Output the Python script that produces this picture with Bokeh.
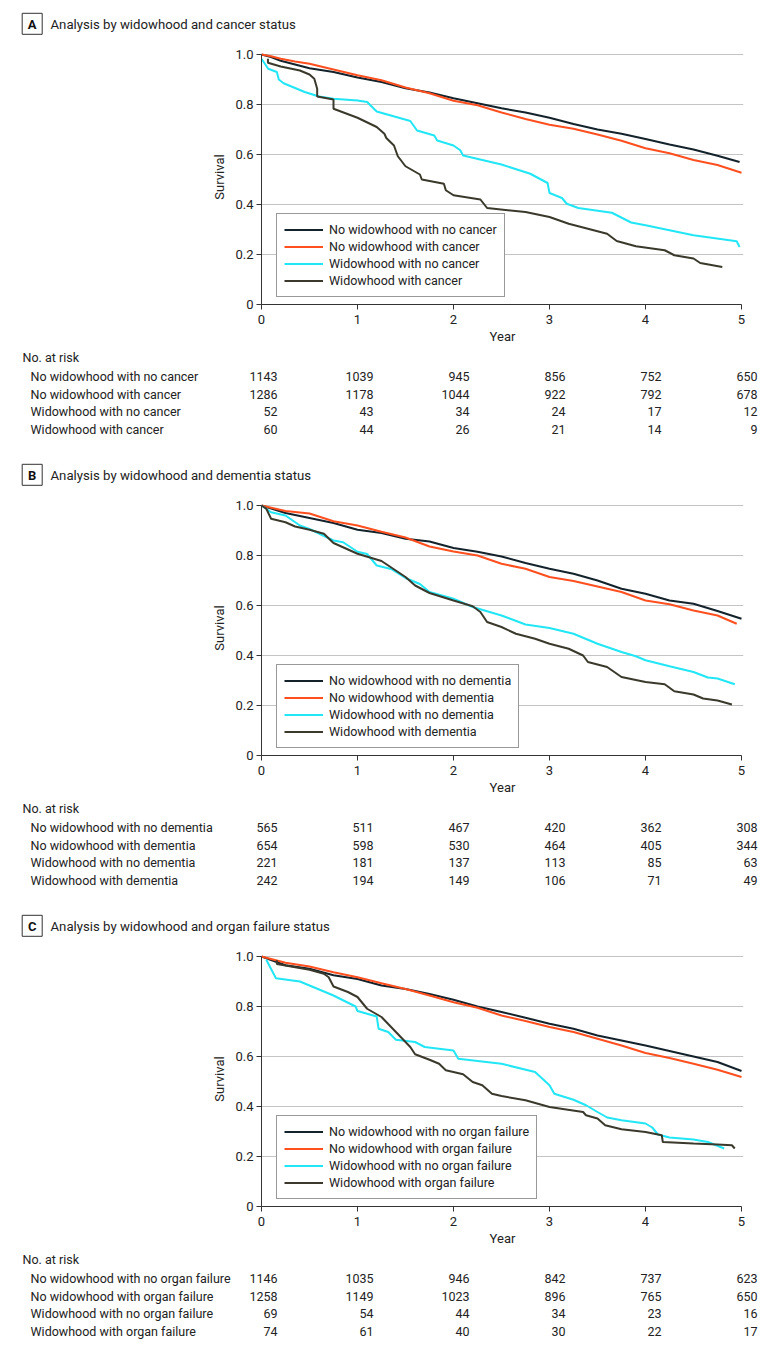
from bokeh.plotting import figure
from bokeh.layouts import column
from bokeh.models import Range1d, FixedTicker, Legend, LegendItem, ColumnDataSource, CustomJSTickFormatter
from bokeh.core.properties import value
from bokeh.embed import file_html
from bokeh.resources import INLINE

# ---------------- data ----------------
YEARS = [0, 1, 2, 3, 4, 5]
Y_TICKS = [0, 0.2, 0.4, 0.6, 0.8, 1.0]

# Panel A: cancer
A_TITLE = "Analysis by widowhood and cancer status"
A_LABELS = ["No widowhood with no cancer", "No widowhood with cancer",
            "Widowhood with no cancer", "Widowhood with cancer"]
A_RISK_1 = [1143, 1039, 945, 856, 752, 650]
A_RISK_2 = [1286, 1178, 1044, 922, 792, 678]
A_RISK_3 = [52, 43, 34, 24, 17, 12]
A_RISK_4 = [60, 44, 26, 21, 14, 9]
A1_X = [0, 0.1, 0.2, 0.35, 0.5, 0.75, 1.0, 1.25, 1.5, 1.75, 2.0, 2.25, 2.5, 2.75, 3.0, 3.25, 3.5, 3.75, 4.0, 4.25, 4.5, 4.75, 4.98]
A1_Y = [1.0, 0.99, 0.975, 0.96, 0.945, 0.93, 0.908, 0.89, 0.865, 0.848, 0.825, 0.805, 0.785, 0.768, 0.747, 0.722, 0.70, 0.683, 0.662, 0.64, 0.62, 0.595, 0.57]
A2_X = [0, 0.1, 0.2, 0.35, 0.5, 0.75, 1.0, 1.25, 1.5, 1.75, 2.0, 2.25, 2.5, 2.75, 3.0, 3.25, 3.5, 3.75, 4.0, 4.25, 4.5, 4.75, 5.0]
A2_Y = [1.0, 0.993, 0.983, 0.972, 0.963, 0.94, 0.917, 0.897, 0.868, 0.845, 0.815, 0.797, 0.768, 0.742, 0.719, 0.703, 0.68, 0.655, 0.625, 0.605, 0.578, 0.558, 0.527]
A3_X = [0, 0.07, 0.16, 0.18, 0.23, 0.45, 0.6, 0.75, 1.0, 1.1, 1.2, 1.55, 1.62, 1.8, 1.83, 2.0, 2.07, 2.1, 2.5, 2.8, 2.98, 3.0, 3.13, 3.18, 3.3, 3.65, 3.85, 4.0, 4.5, 4.95, 4.98]
A3_Y = [0.983, 0.943, 0.93, 0.90, 0.885, 0.85, 0.832, 0.823, 0.816, 0.81, 0.772, 0.734, 0.696, 0.676, 0.656, 0.636, 0.617, 0.596, 0.56, 0.523, 0.486, 0.446, 0.426, 0.403, 0.386, 0.367, 0.328, 0.317, 0.277, 0.253, 0.23]
A4_X = [0.067, 0.067, 0.2, 0.4, 0.5, 0.55, 0.58, 0.58, 0.75, 0.75, 1.0, 1.2, 1.28, 1.3, 1.38, 1.42, 1.5, 1.65, 1.67, 1.9, 1.92, 2.0, 2.28, 2.35, 2.75, 3.0, 3.2, 3.6, 3.7, 3.9, 4.2, 4.3, 4.5, 4.57, 4.8]
A4_Y = [0.983, 0.967, 0.952, 0.936, 0.92, 0.903, 0.863, 0.832, 0.82, 0.783, 0.747, 0.71, 0.683, 0.666, 0.636, 0.593, 0.553, 0.52, 0.50, 0.483, 0.457, 0.437, 0.42, 0.386, 0.37, 0.35, 0.323, 0.283, 0.254, 0.233, 0.217, 0.197, 0.184, 0.166, 0.15]

# Panel B: dementia
B_TITLE = "Analysis by widowhood and dementia status"
B_LABELS = ["No widowhood with no dementia", "No widowhood with dementia",
            "Widowhood with no dementia", "Widowhood with dementia"]
B_RISK_1 = [565, 511, 467, 420, 362, 308]
B_RISK_2 = [654, 598, 530, 464, 405, 344]
B_RISK_3 = [221, 181, 137, 113, 85, 63]
B_RISK_4 = [242, 194, 149, 106, 71, 49]
B1_X = [0, 0.25, 0.5, 0.75, 1.0, 1.25, 1.5, 1.75, 2.0, 2.25, 2.5, 2.75, 3.0, 3.25, 3.5, 3.75, 4.0, 4.25, 4.5, 4.75, 5.0]
B1_Y = [1.0, 0.97, 0.95, 0.93, 0.903, 0.89, 0.867, 0.856, 0.83, 0.815, 0.796, 0.77, 0.747, 0.727, 0.70, 0.667, 0.647, 0.62, 0.607, 0.578, 0.547]
B2_X = [0, 0.25, 0.5, 0.75, 1.0, 1.25, 1.5, 1.75, 2.0, 2.25, 2.5, 2.75, 3.0, 3.25, 3.5, 3.75, 4.0, 4.25, 4.5, 4.75, 4.95]
B2_Y = [1.0, 0.978, 0.968, 0.937, 0.92, 0.895, 0.872, 0.836, 0.816, 0.80, 0.767, 0.747, 0.714, 0.698, 0.676, 0.654, 0.62, 0.605, 0.58, 0.56, 0.527]
B3_X = [0, 0.1, 0.25, 0.4, 0.5, 0.75, 0.85, 1.0, 1.1, 1.2, 1.35, 1.5, 1.65, 1.75, 2.0, 2.2, 2.5, 2.75, 3.0, 3.25, 3.5, 3.75, 3.9, 4.0, 4.25, 4.5, 4.65, 4.75, 4.93]
B3_Y = [1.0, 0.973, 0.96, 0.92, 0.906, 0.86, 0.853, 0.815, 0.806, 0.76, 0.746, 0.71, 0.686, 0.654, 0.627, 0.594, 0.56, 0.524, 0.51, 0.487, 0.447, 0.414, 0.397, 0.381, 0.357, 0.334, 0.312, 0.308, 0.285]
B4_X = [0, 0.05, 0.1, 0.25, 0.35, 0.5, 0.65, 0.75, 1.0, 1.25, 1.5, 1.6, 1.75, 2.0, 2.2, 2.28, 2.35, 2.5, 2.65, 2.85, 3.0, 3.2, 3.35, 3.4, 3.6, 3.75, 4.0, 4.2, 4.3, 4.5, 4.6, 4.75, 4.9]
B4_Y = [1.0, 0.987, 0.947, 0.933, 0.916, 0.903, 0.887, 0.85, 0.807, 0.778, 0.714, 0.68, 0.65, 0.62, 0.597, 0.574, 0.534, 0.514, 0.487, 0.467, 0.447, 0.427, 0.40, 0.374, 0.354, 0.314, 0.294, 0.285, 0.257, 0.244, 0.228, 0.22, 0.204]

# Panel C: organ failure
C_TITLE = "Analysis by widowhood and organ failure status"
C_LABELS = ["No widowhood with no organ failure", "No widowhood with organ failure",
            "Widowhood with no organ failure", "Widowhood with organ failure"]
C_RISK_1 = [1146, 1035, 946, 842, 737, 623]
C_RISK_2 = [1258, 1149, 1023, 896, 765, 650]
C_RISK_3 = [69, 54, 44, 34, 23, 16]
C_RISK_4 = [74, 61, 40, 30, 22, 17]
C1_X = [0, 0.25, 0.5, 0.75, 1.0, 1.25, 1.5, 1.75, 2.0, 2.25, 2.5, 2.75, 3.0, 3.25, 3.5, 3.75, 4.0, 4.25, 4.5, 4.75, 5.0]
C1_Y = [1.0, 0.965, 0.951, 0.925, 0.91, 0.884, 0.87, 0.85, 0.827, 0.80, 0.778, 0.755, 0.731, 0.711, 0.684, 0.664, 0.644, 0.622, 0.60, 0.578, 0.542]
C2_X = [0, 0.25, 0.5, 0.75, 1.0, 1.25, 1.5, 1.75, 2.0, 2.25, 2.5, 2.75, 3.0, 3.25, 3.5, 3.75, 4.0, 4.25, 4.5, 4.75, 5.0]
C2_Y = [1.0, 0.975, 0.96, 0.937, 0.917, 0.893, 0.87, 0.844, 0.817, 0.795, 0.764, 0.742, 0.718, 0.698, 0.671, 0.644, 0.614, 0.594, 0.571, 0.547, 0.518]
C3_X = [0.05, 0.1, 0.15, 0.4, 0.5, 0.75, 0.98, 1.0, 1.2, 1.22, 1.32, 1.4, 1.6, 1.7, 2.0, 2.05, 2.5, 2.85, 3.0, 3.05, 3.25, 3.38, 3.5, 3.6, 3.75, 4.0, 4.07, 4.13, 4.25, 4.5, 4.65, 4.82]
C3_Y = [0.987, 0.95, 0.913, 0.90, 0.884, 0.844, 0.80, 0.782, 0.76, 0.711, 0.698, 0.667, 0.658, 0.638, 0.624, 0.591, 0.571, 0.538, 0.485, 0.451, 0.427, 0.405, 0.378, 0.356, 0.345, 0.332, 0.316, 0.288, 0.276, 0.268, 0.258, 0.232]
C4_X = [0.16, 0.16, 0.5, 0.65, 0.7, 0.75, 0.9, 1.0, 1.1, 1.25, 1.35, 1.45, 1.55, 1.6, 1.75, 1.85, 1.92, 2.1, 2.2, 2.3, 2.4, 2.5, 2.75, 3.0, 3.35, 3.38, 3.5, 3.58, 3.75, 4.0, 4.17, 4.18, 4.5, 4.75, 4.9, 4.93]
C4_Y = [0.985, 0.97, 0.947, 0.931, 0.917, 0.88, 0.858, 0.838, 0.791, 0.758, 0.718, 0.678, 0.638, 0.609, 0.587, 0.571, 0.545, 0.529, 0.498, 0.485, 0.451, 0.442, 0.425, 0.398, 0.378, 0.365, 0.352, 0.325, 0.309, 0.298, 0.285, 0.258, 0.252, 0.248, 0.245, 0.232]

# ---------------- style / layout ----------------
COLORS = ["#13222b", "#ff4f1f", "#21e6f5", "#3a392c"]
FONT = "Roboto"
TXT = "#222222"
W = 780
PX_PER_YEAR = 96
PX_PER_UNIT = 250
FRAME_LEFT = 261
FRAME_RIGHT = 37
HEAD_H = 44
PLOT_TOP = 5
FRAME_H = 255
PLOT_BOTTOM = 46
ROW0 = 26
ROW_PITCH = 17.7


def bare(height, xr, yr):
    f = figure(width=W, height=height, x_range=xr, y_range=yr,
               toolbar_location=None, output_backend="svg", min_border=0,
               x_axis_location=None, y_axis_location=None, frame_align=False)
    f.grid.visible = False
    f.outline_line_color = None
    f.background_fill_color = "white"
    f.border_fill_color = "white"
    return f


def head(letter, title):
    h = bare(HEAD_H, Range1d(0, W), Range1d(HEAD_H, 0))
    h.rect(x=[31.7], y=[23.3], width=20, height=21, fill_color=None,
           line_color="#333333", line_width=1)
    h.text(x=[31.7], y=[23.8], text=[letter], text_font=value(FONT),
           text_font_size="13px", text_font_style="bold", text_align="center",
           text_baseline="middle", text_color="#111111")
    h.text(x=[50], y=[24], text=[title], text_font=value(FONT),
           text_font_size="13.2px", text_align="left", text_baseline="middle",
           text_color=TXT)
    return h


def km(curves, labels):
    p = figure(width=W, height=PLOT_TOP + FRAME_H + PLOT_BOTTOM,
               x_range=Range1d(0, (W - FRAME_LEFT - FRAME_RIGHT) / PX_PER_YEAR),
               y_range=Range1d(0, FRAME_H / PX_PER_UNIT),
               toolbar_location=None, output_backend="svg", frame_align=False,
               min_border_left=FRAME_LEFT, min_border_right=FRAME_RIGHT,
               min_border_top=PLOT_TOP, min_border_bottom=PLOT_BOTTOM)
    p.outline_line_color = None
    p.xgrid.visible = False
    p.ygrid.grid_line_color = "#c4c4c4"
    p.ygrid.grid_line_width = 1
    p.xaxis.ticker = FixedTicker(ticks=YEARS)
    p.yaxis.ticker = FixedTicker(ticks=Y_TICKS)
    p.yaxis.formatter = CustomJSTickFormatter(code="return tick == 0 ? '0' : tick.toFixed(1);")
    p.xaxis.bounds = (YEARS[0], YEARS[-1])
    p.yaxis.bounds = (Y_TICKS[0], Y_TICKS[-1])
    for ax in (p.xaxis[0], p.yaxis[0]):
        ax.axis_line_color = "#333333"
        ax.major_tick_line_color = "#333333"
        ax.major_tick_out = 5
        ax.major_tick_in = 0
        ax.minor_tick_line_color = None
        ax.major_label_text_font = FONT
        ax.major_label_text_font_size = "13px"
        ax.major_label_text_color = TXT
        ax.axis_label_text_font = FONT
        ax.axis_label_text_font_size = "13px"
        ax.axis_label_text_font_style = "normal"
        ax.axis_label_text_color = TXT
    p.xaxis.major_label_standoff = 5
    p.yaxis.major_label_standoff = 3
    p.xaxis.axis_label = "Year"
    p.xaxis.axis_label_standoff = 2
    p.yaxis.axis_label = "Survival"
    p.yaxis.axis_label_standoff = 5
    rends = []
    for (xs, ys), c in zip(curves, COLORS):
        r = p.line(xs, ys, line_color=c, line_width=2)
        rends.append(r)
    items = [LegendItem(label=l, renderers=[r]) for l, r in zip(labels, rends)]
    leg = Legend(items=items, location=(15, 7), margin=0, padding=7, spacing=0,
                 glyph_width=39, glyph_height=17, label_height=17, label_standoff=6,
                 label_text_font=FONT, label_text_font_size="12.5px", label_text_color=TXT,
                 border_line_color="#333333", border_line_width=1,
                 background_fill_color="white", background_fill_alpha=1.0)
    p.add_layout(leg)
    return p


def table(labels, risks, height):
    t = bare(height,
             Range1d(-FRAME_LEFT / PX_PER_YEAR, (W - FRAME_LEFT) / PX_PER_YEAR),
             Range1d((height - ROW0) / ROW_PITCH, -ROW0 / ROW_PITCH))
    t.text(x=[(22 - FRAME_LEFT) / PX_PER_YEAR], y=[-1.07], text=["No. at risk"],
           text_font=value(FONT), text_font_size="12.5px", text_align="left",
           text_baseline="middle", text_color=TXT)
    t.text(x=[(30 - FRAME_LEFT) / PX_PER_YEAR] * len(labels), y=list(range(len(labels))),
           text=labels, text_font=value(FONT), text_font_size="12.5px", text_align="left",
           text_baseline="middle", text_color=TXT)
    xs, ys, tx = [], [], []
    for i, row in enumerate(risks):
        for yr, n in zip(YEARS, row):
            xs.append(yr)
            ys.append(i)
            tx.append(str(n))
    src = ColumnDataSource(dict(x=xs, y=ys, t=tx))
    t.text(x="x", y="y", text="t", source=src, x_offset=16, text_font=value(FONT),
           text_font_size="12.5px", text_align="right", text_baseline="middle",
           text_color=TXT)
    return t


panels = [
    ("A", A_TITLE, A_LABELS, [(A1_X, A1_Y), (A2_X, A2_Y), (A3_X, A3_Y), (A4_X, A4_Y)],
     [A_RISK_1, A_RISK_2, A_RISK_3, A_RISK_4], 101),
    ("B", B_TITLE, B_LABELS, [(B1_X, B1_Y), (B2_X, B2_Y), (B3_X, B3_Y), (B4_X, B4_Y)],
     [B_RISK_1, B_RISK_2, B_RISK_3, B_RISK_4], 101),
    ("C", C_TITLE, C_LABELS, [(C1_X, C1_Y), (C2_X, C2_Y), (C3_X, C3_Y), (C4_X, C4_Y)],
     [C_RISK_1, C_RISK_2, C_RISK_3, C_RISK_4], 96),
]

children = []
for letter, title, labels, curves, risks, th in panels:
    children.append(head(letter, title))
    children.append(km(curves, labels))
    children.append(table(labels, risks, th))

page = column(children, spacing=0)
open("out.html", "w").write(file_html(page, INLINE))
